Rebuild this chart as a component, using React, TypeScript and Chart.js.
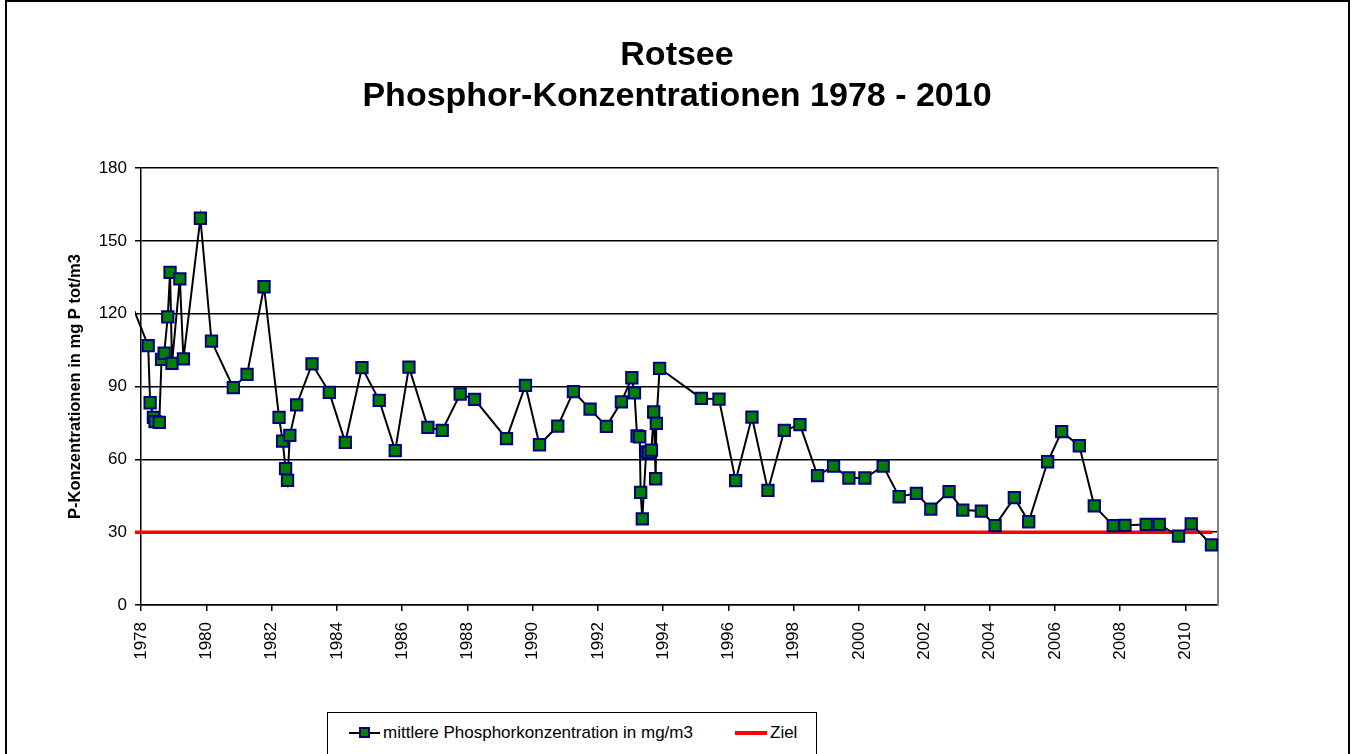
import React, { useEffect, useRef } from "react";
import { Chart, registerables } from "chart.js";

Chart.register(...registerables);

// ---- data ----
const sampleYears: number[] = [
  1977.8,
  1978.22, 1978.28, 1978.38, 1978.43, 1978.56, 1978.63, 1978.71, 1978.82, 1978.89, 1978.95,
  1979.19, 1979.3, 1979.82, 1980.16, 1980.83, 1981.25, 1981.77,
  1982.23, 1982.34, 1982.43, 1982.49, 1982.56, 1982.77,
  1983.24, 1983.77, 1984.26, 1984.77, 1985.3, 1985.79, 1986.21, 1986.79,
  1987.23, 1987.78, 1988.22, 1989.2, 1989.78, 1990.21, 1990.77, 1991.25, 1991.76,
  1992.26, 1992.72, 1993.04, 1993.12, 1993.2, 1993.28, 1993.31, 1993.36,
  1993.48, 1993.55, 1993.64, 1993.71, 1993.77, 1993.79, 1993.89,
  1995.17, 1995.71, 1996.22, 1996.72, 1997.21, 1997.71, 1998.19, 1998.73,
  1999.22, 1999.69, 2000.18, 2000.74, 2001.23, 2001.76, 2002.2, 2002.76,
  2003.18, 2003.75, 2004.17, 2004.76, 2005.2, 2005.78, 2006.21, 2006.75,
  2007.21, 2007.79, 2008.15, 2008.8, 2009.2, 2009.79, 2010.18, 2010.8,
];

const phosphorValues: number[] = [
  121,
  106.8, 83.3, 77.3, 75.5, 75.2, 101.2, 103.7, 118.7, 137.0, 99.5,
  134.3, 101.4, 159.3, 108.7, 89.5, 95.0, 131.1,
  77.3, 67.5, 56.2, 51.3, 69.9, 82.4,
  99.3, 87.6, 67.0, 97.8, 84.3, 63.6, 98.0, 73.2,
  71.9, 86.9, 84.7, 68.5, 90.5, 66.0, 73.7, 87.9, 80.7,
  73.6, 83.7, 93.6, 87.4, 69.6, 69.3, 46.4, 35.5,
  63.1, 62.9, 63.8, 79.5, 52.0, 74.8, 97.5,
  85.1, 84.8, 51.2, 77.4, 47.2, 71.9, 74.3, 53.3,
  57.2, 52.3, 52.3, 57.2, 44.6, 46.0, 39.5, 46.7,
  39.1, 38.7, 32.7, 44.2, 34.3, 59.0, 71.4, 65.6,
  40.8, 32.7, 32.8, 33.2, 33.2, 28.4, 33.4, 24.8,
];

const targetYears: number[] = [1977.8, 2010.83];
const targetValues: number[] = [30, 30];

const xTickYears: number[] = [
  1978, 1980, 1982, 1984, 1986, 1988, 1990, 1992, 1994, 1996, 1998,
  2000, 2002, 2004, 2006, 2008, 2010,
];

const titleLines: string[] = ["Rotsee", "Phosphor-Konzentrationen 1978 - 2010"];
const yAxisTitle = "P-Konzentrationen in mg P tot/m3";
const seriesLabel = "mittlere Phosphorkonzentration in mg/m3";
const targetLabel = "Ziel";

const FONT = "'Liberation Sans', Arial, Helvetica, sans-serif";

export default function App() {
  const canvasRef = useRef<HTMLCanvasElement | null>(null);

  useEffect(() => {
    const canvas = canvasRef.current;
    if (!canvas) return;
    Chart.defaults.font.family = FONT;
    Chart.defaults.color = "#000";

    const seriesData = sampleYears.map((x, i) => ({ x, y: phosphorValues[i] }));
    const targetData = targetYears.map((x, i) => ({ x, y: targetValues[i] }));
    const clip = { left: 6, right: 6, top: 10, bottom: 10 };

    const chart = new Chart(canvas, {
      type: "line",
      data: {
        datasets: [
          {
            label: seriesLabel,
            data: seriesData,
            borderColor: "#000",
            borderWidth: 2,
            tension: 0,
            pointStyle: "rect",
            pointRadius: (ctx: any) => (ctx.dataIndex === 0 ? 0 : 8),
            pointBackgroundColor: "#008000",
            pointBorderColor: "#000080",
            pointBorderWidth: 2,
            clip: clip as any,
          },
          {
            label: targetLabel,
            data: targetData,
            borderColor: "#ff0000",
            borderWidth: 3.5,
            pointRadius: 0,
            tension: 0,
            clip: clip as any,
          },
        ],
      },
      options: {
        animation: false,
        responsive: false,
        devicePixelRatio: 1,
        events: [],
        layout: { padding: 0 },
        plugins: {
          legend: { display: false },
          tooltip: { enabled: false },
          title: {
            display: true,
            text: titleLines,
            color: "#000",
            font: { size: 34, weight: "bold", family: FONT, lineHeight: 1.2 },
            padding: { top: 35, bottom: 51.4 },
          },
        },
        scales: {
          x: {
            type: "linear",
            position: "bottom",
            min: 1978,
            max: 2011,
            afterBuildTicks: (scale: any) => {
              scale.ticks = xTickYears.map((v) => ({ value: v }));
            },
            afterFit: (scale: any) => {
              scale.height = 107;
            },
            grid: {
              drawOnChartArea: false,
              drawTicks: true,
              tickLength: 6,
              color: "#000",
              lineWidth: 1.5,
            },
            border: { display: true, color: "#000", width: 1.5 },
            ticks: {
              autoSkip: false,
              maxRotation: 90,
              minRotation: 90,
              padding: 11,
              color: "#000",
              font: { size: 17, family: FONT },
              callback: (v: any) => String(v),
            },
          },
          y: {
            type: "linear",
            position: "left",
            min: 0,
            max: 180,
            afterFit: (scale: any) => {
              scale.width = 141;
            },
            grid: {
              color: "#000",
              lineWidth: 1.5,
              drawTicks: true,
              tickLength: 6,
            },
            border: { display: true, color: "#000", width: 1.5 },
            ticks: {
              stepSize: 30,
              padding: 8,
              color: "#000",
              font: { size: 17, family: FONT },
            },
            title: {
              display: true,
              text: yAxisTitle,
              color: "#000",
              font: { size: 16.5, weight: "bold", family: FONT },
              padding: { top: 66, bottom: 0 },
            },
          },
          y2: {
            type: "linear",
            position: "right",
            min: 0,
            max: 180,
            afterFit: (scale: any) => {
              scale.width = 136;
            },
            grid: { drawOnChartArea: false, drawTicks: false },
            border: { display: true, color: "#808080", width: 2 },
            ticks: { display: false },
          },
        },
      } as any,
    });

    return () => {
      chart.destroy();
    };
  }, []);

  return (
    <div
      style={{
        position: "absolute",
        left: 0,
        top: 0,
        width: 1354,
        height: 754,
        overflow: "hidden",
        background: "#fff",
        fontFamily: FONT,
      }}
    >
      <canvas
        ref={canvasRef}
        width={1354}
        height={712}
        style={{ position: "absolute", left: 0, top: 0, width: 1354, height: 712 }}
      />
      <div
        style={{
          position: "absolute",
          left: 5,
          top: 0,
          width: 1345,
          height: 790,
          border: "2px solid #000",
          boxSizing: "border-box",
          pointerEvents: "none",
        }}
      />
      <div
        style={{
          position: "absolute",
          left: 327,
          top: 712,
          width: 490,
          height: 60,
          border: "1px solid #000",
          boxSizing: "border-box",
          background: "#fff",
        }}
      >
        <div
          style={{
            position: "absolute",
            left: 21,
            top: 19,
            width: 31,
            height: 2,
            background: "#000",
          }}
        />
        <div
          style={{
            position: "absolute",
            left: 31,
            top: 14,
            width: 11,
            height: 11,
            background: "#008000",
            border: "2px solid #000080",
            boxSizing: "border-box",
          }}
        />
        <span
          style={{
            position: "absolute",
            left: 55,
            top: 10,
            fontSize: 17,
            lineHeight: "20px",
            color: "#000",
            whiteSpace: "nowrap",
          }}
        >
          {seriesLabel}
        </span>
        <div
          style={{
            position: "absolute",
            left: 407,
            top: 18,
            width: 32,
            height: 4,
            background: "#ff0000",
          }}
        />
        <span
          style={{
            position: "absolute",
            left: 442,
            top: 10,
            fontSize: 17,
            lineHeight: "20px",
            color: "#000",
            whiteSpace: "nowrap",
          }}
        >
          {targetLabel}
        </span>
      </div>
    </div>
  );
}
